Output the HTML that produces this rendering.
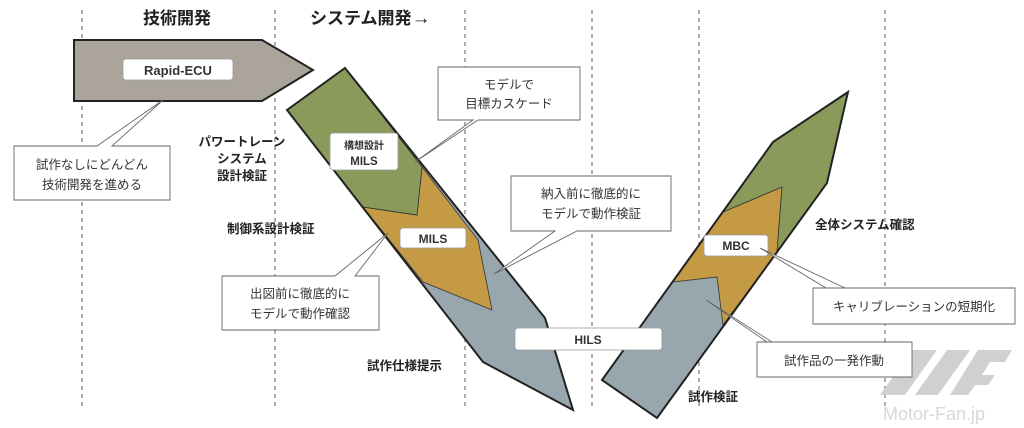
<!DOCTYPE html>
<html><head><meta charset="utf-8"><style>
html,body{margin:0;padding:0;background:#fff;}
svg{display:block;}
text{font-family:"Liberation Sans","Noto Sans CJK JP",sans-serif;}
</style></head><body>
<svg width="1024" height="428" viewBox="0 0 1024 428" xmlns="http://www.w3.org/2000/svg">
<g stroke="#777" stroke-width="1.2" stroke-dasharray="4,4">
<line x1="82" y1="10" x2="82" y2="410"/><line x1="275" y1="10" x2="275" y2="410"/>
<line x1="465" y1="10" x2="465" y2="410"/><line x1="592" y1="10" x2="592" y2="410"/>
<line x1="699" y1="10" x2="699" y2="410"/><line x1="885" y1="10" x2="885" y2="410"/>
</g>
<g font-weight="bold" fill="#222">
<text x="143" y="24" font-size="17">技術開発</text>
<text x="310" y="24" font-size="17">システム開発<tspan font-size="19">→</tspan></text>
<g font-size="12.5" text-anchor="middle"><text x="242" y="146">パワートレーン</text><text x="242" y="163">システム</text><text x="242" y="180">設計検証</text></g>
<text x="227" y="233" font-size="12.5">制御系設計検証</text>
<text x="367" y="370" font-size="12.5">試作仕様提示</text>
<text x="688" y="401" font-size="12.5">試作検証</text>
<text x="815" y="229" font-size="12.5">全体システム確認</text>
</g>
<!-- watermark -->
<g fill="#d0d0d0"><polygon points="880,395 912,350 937,350 905,395"/><polygon points="915,395 947,350 970,350 938,395"/><polygon points="950,395 978,350 1012,350 1005,362 990,362 982,375 995,375 988,385 975,385 968,395"/></g>
<text x="883" y="420" font-size="18" fill="#d8d8d8">Motor-Fan.jp</text>
<!-- top arrow -->
<polygon points="74,40 262,40 313,70 262,101 74,101" fill="#aaa49b" stroke="#222" stroke-width="2"/>
<!-- left arm -->
<polygon points="287,110 345,68 545,318 573,410 483,362" fill="#98a6ae"/>
<polygon points="423,282 492,310 478,240 422,167 417,215 363,207" fill="#c59a45" stroke="#333" stroke-width="0.8"/>
<polygon points="287,110 345,68 422,167 417,215 363,207" fill="#8a9a5b" stroke="#333" stroke-width="0.8"/>
<polygon points="287,110 345,68 545,318 573,410 483,362" fill="none" stroke="#222" stroke-width="2"/>
<!-- right arm -->
<polygon points="602,380 657,418 827,183 848,92 773,142" fill="#98a6ae"/>
<polygon points="673,282 717,277 723,325 777,252 782,187 723,212" fill="#c59a45" stroke="#333" stroke-width="0.8"/>
<polygon points="723,212 782,187 777,252 827,183 848,92 773,142" fill="#8a9a5b" stroke="#333" stroke-width="0.8"/>
<polygon points="602,380 657,418 827,183 848,92 773,142" fill="none" stroke="#222" stroke-width="2"/>
<!-- pill labels -->
<g fill="#fff" stroke="#999" stroke-width="0.8">
<rect x="123" y="59" width="110" height="21" rx="3"/>
<rect x="330" y="133" width="68" height="37" rx="3"/>
<rect x="400" y="228" width="66" height="20" rx="3"/>
<rect x="515" y="328" width="147" height="22" rx="3"/>
<rect x="704" y="235" width="64" height="21" rx="3"/>
</g>
<g font-weight="bold" fill="#333" text-anchor="middle" font-size="12">
<text x="178" y="75" font-size="13">Rapid-ECU</text>
<text x="364" y="149" font-size="10">構想設計</text><text x="364" y="165" font-size="11.5">MILS</text>
<text x="433" y="243">MILS</text>
<text x="588" y="344">HILS</text>
<text x="736" y="250">MBC</text>
</g>
<!-- callouts -->
<g fill="#fff" stroke="#666" stroke-width="0.9">
<polygon points="14,146 97,146 163,100 112,146 170,146 170,200 14,200"/>
<polygon points="438,67 580,67 580,120 478,120 415,162 473,120 438,120"/>
<polygon points="511,176 671,176 671,231 577,231 494,274 555,231 511,231"/>
<polygon points="222,276 335,276 388,233 355,276 379,276 379,330 222,330"/>
<polygon points="813,288 845,288 760,248 826,288 1015,288 1015,324 813,324"/>
<polygon points="757,342 772,342 706,300 767,342 912,342 912,377 757,377"/>
</g>
<g fill="#333" font-size="12.5" text-anchor="middle">
<text x="92" y="169">試作なしにどんどん</text><text x="92" y="189">技術開発を進める</text>
<text x="509" y="89">モデルで</text><text x="509" y="108">目標カスケード</text>
<text x="591" y="198">納入前に徹底的に</text><text x="591" y="218">モデルで動作検証</text>
<text x="300" y="298">出図前に徹底的に</text><text x="300" y="318">モデルで動作確認</text>
<text x="914" y="311">キャリブレーションの短期化</text>
<text x="834" y="365">試作品の一発作動</text>
</g>
</svg>
</body></html>
